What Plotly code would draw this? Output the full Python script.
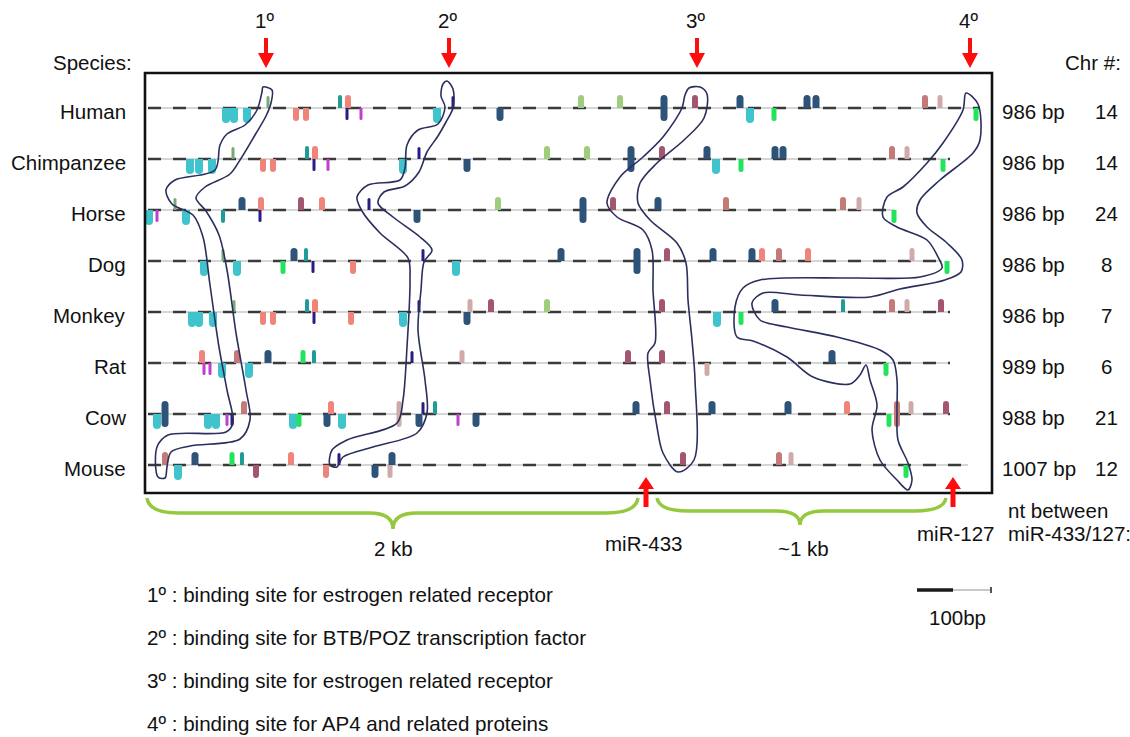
import plotly.graph_objects as go

# ---------------- data ----------------
species = ["Human", "Chimpanzee", "Horse", "Dog", "Monkey", "Rat", "Cow", "Mouse"]
bp_len = [986, 986, 986, 986, 986, 989, 988, 1007]
chrom = [14, 14, 24, 8, 7, 6, 21, 12]
track_start = [148, 148, 148, 148, 148, 148, 148, 148]
track_end = [980, 950, 895, 942, 950, 950, 950, 968]

site_labels = ["1º", "2º", "3º", "4º"]
site_pos = [266, 449, 697, 970]
mir_labels = ["miR-433", "miR-127"]
mir_pos = [646, 953]
legend_text = [
    "1º : binding site for estrogen related receptor",
    "2º : binding site for BTB/POZ transcription factor",
    "3º : binding site for estrogen related receptor",
    "4º : binding site for AP4 and related proteins",
]

# binding-site marks per species: (position, factor class, strand side)
marks_human = [(226, 'cyan', 'd'), (234, 'cyan', 'd'), (247, 'cyan', 'd'), (268, 'ggreen', 'u'), (296, 'salmon', 'd'),
               (306, 'salmon', 'd'), (340, 'teal', 'u'), (348, 'salmon', 'u'), (347, 'indigo', 'd'), (361, 'magenta', 'd'),
               (437, 'cyan', 'd'), (453, 'indigo', 'u'), (500, 'navy', 'd'), (581, 'lgreen', 'u'), (620, 'lgreen', 'u'),
               (664, 'navy', 'b'), (695, 'mauve', 'u'), (740, 'navy', 'u'), (750, 'cyan', 'd'), (774, 'bgreen', 'd'),
               (807, 'navy', 'u'), (816, 'navy', 'u'), (925, 'rosy', 'u'), (940, 'pink', 'u'), (976, 'bgreen', 'd')]
marks_chimp = [(190, 'cyan', 'd'), (199, 'cyan', 'd'), (212, 'cyan', 'd'), (233, 'ggreen', 'u'), (263, 'salmon', 'd'),
               (273, 'salmon', 'd'), (307, 'teal', 'u'), (315, 'salmon', 'u'), (314, 'indigo', 'd'), (328, 'magenta', 'd'),
               (403, 'cyan', 'd'), (419, 'indigo', 'u'), (467, 'navy', 'd'), (547, 'lgreen', 'u'), (587, 'lgreen', 'u'),
               (631, 'navy', 'b'), (662, 'mauve', 'u'), (707, 'navy', 'u'), (716, 'cyan', 'd'), (741, 'bgreen', 'd'),
               (775, 'navy', 'u'), (783, 'navy', 'u'), (892, 'rosy', 'u'), (907, 'pink', 'u'), (943, 'bgreen', 'd')]
marks_horse = [(149, 'cyan', 'd'), (157, 'magenta', 'd'), (175, 'ggreen', 'u'), (186, 'cyan', 'd'), (223, 'teal', 'd'),
               (242, 'navy', 'u'), (261, 'salmon', 'u'), (260, 'indigo', 'd'), (301, 'mauve', 'u'), (322, 'salmon', 'u'),
               (369, 'indigo', 'u'), (417, 'navy', 'd'), (498, 'lgreen', 'u'), (583, 'navy', 'b'), (613, 'mauve', 'u'),
               (658, 'navy', 'u'), (726, 'rosy', 'u'), (843, 'rosy', 'u'), (859, 'pink', 'u'), (894, 'bgreen', 'd')]
marks_dog = [(204, 'cyan', 'd'), (223, 'ggreen', 'u'), (237, 'cyan', 'd'), (283, 'bgreen', 'd'), (294, 'navy', 'u'),
             (306, 'teal', 'u'), (313, 'indigo', 'd'), (353, 'salmon', 'd'), (423, 'indigo', 'u'), (456, 'cyan', 'd'),
             (561, 'navy', 'u'), (637, 'navy', 'b'), (667, 'mauve', 'u'), (713, 'navy', 'u'), (752, 'navy', 'u'),
             (762, 'salmon', 'u'), (779, 'rosy', 'u'), (808, 'salmon', 'u'), (912, 'pink', 'u'), (947, 'bgreen', 'd')]
marks_monkey = [(192, 'cyan', 'd'), (199, 'cyan', 'd'), (213, 'cyan', 'd'), (234, 'ggreen', 'u'), (263, 'salmon', 'd'),
                (273, 'salmon', 'd'), (307, 'teal', 'u'), (315, 'salmon', 'u'), (314, 'indigo', 'd'), (351, 'salmon', 'd'),
                (403, 'cyan', 'd'), (419, 'indigo', 'u'), (467, 'navy', 'd'), (470, 'pink', 'u'), (491, 'mauve', 'u'),
                (547, 'lgreen', 'u'), (662, 'mauve', 'u'), (717, 'cyan', 'd'), (741, 'bgreen', 'd'), (775, 'navy', 'u'),
                (843, 'teal', 'u'), (892, 'rosy', 'u'), (907, 'pink', 'u'), (941, 'mauve', 'u')]
marks_rat = [(202, 'salmon', 'u'), (204, 'magenta', 'd'), (210, 'magenta', 'd'), (222, 'cyan', 'd'), (237, 'rosy', 'u'),
             (249, 'cyan', 'd'), (268, 'navy', 'u'), (303, 'bgreen', 'u'), (314, 'teal', 'u'), (412, 'indigo', 'u'),
             (462, 'pink', 'u'), (628, 'mauve', 'u'), (662, 'mauve', 'u'), (707, 'pink', 'd'), (832, 'navy', 'u'),
             (886, 'bgreen', 'd')]
marks_cow = [(157, 'cyan', 'd'), (165, 'navy', 'b'), (208, 'cyan', 'd'), (216, 'cyan', 'd'), (227, 'magenta', 'd'),
             (232, 'indigo', 'd'), (244, 'rosy', 'u'), (293, 'cyan', 'd'), (299, 'bgreen', 'd'), (327, 'navy', 'd'),
             (331, 'salmon', 'u'), (342, 'cyan', 'd'), (399, 'pink', 'b'), (419, 'navy', 'd'), (423, 'indigo', 'u'),
             (435, 'teal', 'u'), (458, 'magenta', 'd'), (476, 'navy', 'd'), (636, 'navy', 'u'), (667, 'mauve', 'u'),
             (712, 'navy', 'u'), (788, 'navy', 'u'), (847, 'salmon', 'u'), (889, 'bgreen', 'd'), (897, 'rosy', 'b'),
             (911, 'pink', 'u'), (946, 'mauve', 'u')]
marks_mouse = [(165, 'rosy', 'u'), (178, 'cyan', 'd'), (195, 'navy', 'u'), (232, 'bgreen', 'u'), (242, 'teal', 'u'),
               (256, 'mauve', 'd'), (291, 'salmon', 'u'), (326, 'salmon', 'd'), (339, 'indigo', 'u'), (375, 'navy', 'd'),
               (390, 'pink', 'd'), (392, 'navy', 'u'), (683, 'mauve', 'u'), (779, 'rosy', 'u'), (791, 'pink', 'u'),
               (906, 'bgreen', 'd')]
all_marks = [marks_human, marks_chimp, marks_horse, marks_dog, marks_monkey, marks_rat, marks_cow, marks_mouse]

# hand-drawn conserved-site outlines
loop1 = [(263, 87), (272, 90), (271, 103), (266, 116), (255, 135), (240, 160), (230, 174), (205, 187), (196, 198),
         (206, 211), (219, 235), (227, 270), (236, 333), (246, 390), (250, 420), (240, 439), (190, 446), (171, 452),
         (167, 467), (165, 478), (158, 477), (157, 447), (168, 435), (226, 432), (233, 423), (227, 390), (219, 347),
         (210, 285), (203, 237), (193, 215), (172, 204), (166, 190), (175, 180), (215, 170), (220, 145), (227, 134),
         (245, 125), (257, 110), (262, 92)]
loop2 = [(447, 81), (453, 89), (453, 108), (446, 122), (438, 136), (427, 152), (419, 172), (405, 186), (384, 192),
         (378, 203), (393, 217), (420, 237), (432, 250), (424, 262), (421, 290), (418, 330), (425, 380), (427, 413),
         (417, 433), (373, 447), (343, 457), (337, 467), (330, 465), (332, 450), (347, 440), (397, 423), (403, 400),
         (407, 347), (410, 280), (408, 258), (380, 233), (362, 211), (357, 197), (368, 185), (400, 180), (405, 168),
         (407, 145), (418, 130), (438, 124), (445, 107), (441, 96), (443, 84)]
loop3 = [(689, 88), (700, 87), (707, 94), (704, 118), (684, 140), (657, 163), (640, 183), (638, 203), (650, 220),
         (677, 243), (686, 263), (688, 300), (692, 340), (695, 380), (694, 460), (678, 472), (663, 453), (657, 427),
         (650, 380), (648, 353), (655, 343), (653, 290), (652, 250), (643, 230), (617, 217), (607, 203), (620, 177),
         (643, 157), (663, 137), (682, 108), (685, 95)]
loop4 = [(966, 93), (978, 104), (980, 140), (973, 153), (940, 180), (920, 200), (917, 213), (927, 227), (947, 243),
         (962, 260), (961, 272), (945, 280), (900, 289), (870, 297), (800, 295), (763, 293), (752, 303), (760, 320),
         (787, 327), (837, 337), (880, 350), (893, 360), (897, 380), (897, 410), (898, 440), (908, 463), (912, 480),
         (908, 490), (897, 480), (880, 460), (872, 430), (877, 405), (870, 380), (866, 365), (860, 375), (850, 384),
         (813, 377), (787, 357), (753, 341), (737, 337), (735, 307), (743, 288), (760, 280), (853, 278), (920, 277),
         (942, 268), (938, 257), (927, 240), (897, 227), (883, 217), (887, 197), (903, 187), (927, 163), (943, 143),
         (963, 110)]
loops = [loop1, loop2, loop3, loop4]

# ---------------- styles ----------------
STYLE = {  # colour, width, height
    'cyan': ('#3fc3cc', 8, 15), 'salmon': ('#ef847b', 6, 13), 'navy': ('#2e5379', 7, 13),
    'teal': ('#1f9c96', 4, 13), 'indigo': ('#2a1c84', 3, 12), 'magenta': ('#c23ed0', 3, 12),
    'lgreen': ('#a0cd7b', 6, 13), 'bgreen': ('#21e35c', 5, 13), 'mauve': ('#a5566f', 6, 13),
    'pink': ('#cfaaa8', 5, 13), 'rosy': ('#c67a77', 6, 13), 'ggreen': ('#79a878', 3, 12),
}
FONT = "Liberation Sans, Arial, sans-serif"
TXT = '#111111'
ROW_Y0, ROW_DY = 108, 51
row_y = [ROW_Y0 + ROW_DY * i for i in range(len(species))]


def mark_path(x, y, w, h, d):
    r = w / 2
    if d == 'u':
        t = y - h
        return (f"M {x-r},{y} L {x-r},{t+r} Q {x-r},{t} {x},{t} Q {x+r},{t} {x+r},{t+r} L {x+r},{y} Z")
    if d == 'd':
        b = y + h
        return (f"M {x-r},{y} L {x-r},{b-r} Q {x-r},{b} {x},{b} Q {x+r},{b} {x+r},{b-r} L {x+r},{y} Z")
    t, b = y - h, y + h
    return (f"M {x-r},{t+r} Q {x-r},{t} {x},{t} Q {x+r},{t} {x+r},{t+r} L {x+r},{b-r} "
            f"Q {x+r},{b} {x},{b} Q {x-r},{b} {x-r},{b-r} Z")


shapes = []
# tracks
for i, y in enumerate(row_y):
    shapes.append(dict(type='line', xref='x', yref='y', x0=track_start[i], x1=track_end[i], y0=y, y1=y,
                       line=dict(color='#c9c9c9', width=1.6), layer='below'))
    shapes.append(dict(type='line', xref='x', yref='y', x0=track_start[i], x1=track_end[i], y0=y, y1=y,
                       line=dict(color='#3a3a3a', width=2.4, dash='13px,12px'), layer='below'))
# marks
for i, mk in enumerate(all_marks):
    for (x, cls, d) in mk:
        c, w, h = STYLE[cls]
        shapes.append(dict(type='path', xref='x', yref='y', path=mark_path(x, row_y[i], w, h, d),
                           fillcolor=c, line=dict(width=0), layer='below'))
# box
shapes.append(dict(type='rect', xref='x', yref='y', x0=145, x1=992, y0=73, y1=493,
                   line=dict(color='#111111', width=2.6), fillcolor='rgba(0,0,0,0)'))


def brace(x0, x1, xc, y0, ym, yc):
    return (f"M {x0},{y0} Q {x0+2},{ym} {x0+32},{ym} L {xc-24},{ym} Q {xc},{ym} {xc},{yc} "
            f"Q {xc},{ym} {xc+24},{ym} L {x1-32},{ym} Q {x1-2},{ym} {x1},{y0}")


shapes.append(dict(type='path', xref='x', yref='y', path=brace(147, 638, 393, 498, 513, 529),
                   line=dict(color='#95c83c', width=3.5)))
shapes.append(dict(type='path', xref='x', yref='y', path=brace(657, 946, 800, 498, 511, 525),
                   line=dict(color='#95c83c', width=3.5)))


def arrow_down(x, y_top, y_tip):
    return (f"M {x-2},{y_top} L {x+2},{y_top} L {x+2},{y_tip-15} L {x+8},{y_tip-15} L {x},{y_tip} "
            f"L {x-8},{y_tip-15} L {x-2},{y_tip-15} Z")


def arrow_up(x, y_bot, y_tip):
    return (f"M {x-2.5},{y_bot} L {x+2.5},{y_bot} L {x+2.5},{y_tip+12} L {x+8},{y_tip+12} L {x},{y_tip} "
            f"L {x-8},{y_tip+12} L {x-2.5},{y_tip+12} Z")


for x in site_pos:
    shapes.append(dict(type='path', xref='x', yref='y', path=arrow_down(x, 38, 68),
                       fillcolor='#ff0d0d', line=dict(width=0)))
for x in mir_pos:
    shapes.append(dict(type='path', xref='x', yref='y', path=arrow_up(x, 507, 477),
                       fillcolor='#ff0d0d', line=dict(width=0)))
# scale bar
shapes.append(dict(type='line', xref='x', yref='y', x0=952, x1=990, y0=590, y1=590,
                   line=dict(color='#c8c8c8', width=2.2)))
shapes.append(dict(type='line', xref='x', yref='y', x0=917, x1=953, y0=590, y1=590,
                   line=dict(color='#1a1a1a', width=3.5)))
shapes.append(dict(type='line', xref='x', yref='y', x0=991, x1=991, y0=587, y1=593,
                   line=dict(color='#1a1a1a', width=1.5)))

fig = go.Figure()
for lp in loops:
    xs = [p[0] for p in lp] + [lp[0][0]]
    ys = [p[1] for p in lp] + [lp[0][1]]
    fig.add_trace(go.Scatter(x=xs, y=ys, mode='lines', line=dict(color='#2b2f5e', width=1.6, shape='spline',
                                                                   smoothing=0.9),
                             hoverinfo='skip', showlegend=False))

ann = []


def t(x, y, s, xa='center', size=20.5):
    ann.append(dict(x=x, y=y, xref='x', yref='y', text=s, showarrow=False, xanchor=xa, yanchor='middle',
                    font=dict(family=FONT, size=size, color=TXT)))


t(92, 62, "Species:")
t(1093, 62, "Chr #:")
for lab, x in zip(site_labels, site_pos):
    t(x - 2, 20, lab)
for i, y in enumerate(row_y):
    t(128, y + 3, species[i], xa='right')
    t(1000, y + 3, f"{bp_len[i]} bp", xa='left')
    t(1106, y + 3, str(chrom[i]))
t(393, 548, "2 kb")
t(643, 543, mir_labels[0])
t(803, 548, "~1 kb")
t(955, 533, mir_labels[1])
t(1006, 510, "nt between", xa='left')
t(1006, 533, "miR-433/127:", xa='left')
t(957, 617, "100bp")
for k, s in enumerate(legend_text):
    t(145, 594 + 43 * k, s, xa='left', size=20.6)

fig.update_layout(
    width=1130, height=737, margin=dict(l=0, r=0, t=0, b=0),
    paper_bgcolor='white', plot_bgcolor='white',
    xaxis=dict(range=[0, 1130], visible=False, fixedrange=True),
    yaxis=dict(range=[737, 0], visible=False, fixedrange=True),
    shapes=shapes, annotations=ann, showlegend=False,
)
fig.write_html("out.html", config={'displayModeBar': False},
               post_script="document.body.style.margin='0';document.body.style.overflow='hidden';")
